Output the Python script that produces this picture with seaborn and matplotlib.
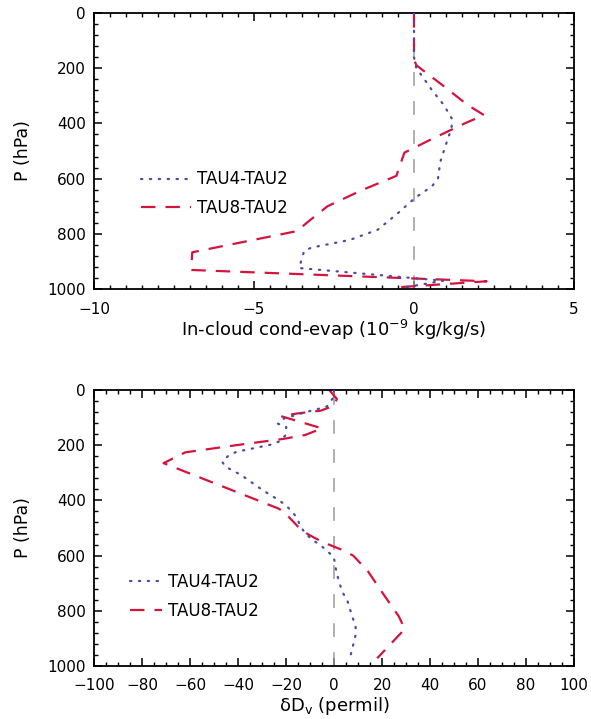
import matplotlib
matplotlib.use("Agg")
import matplotlib.pyplot as plt
import seaborn as sns
import pandas as pd
from matplotlib.ticker import MultipleLocator

# ---------------- data ----------------
# Top panel: in-cloud cond-evap differences (1e-9 kg/kg/s) vs pressure (hPa)
p_cond_tau4 = [0, 160, 200, 228, 281, 333, 386, 418, 479, 540, 600, 628, 670,
               725, 785, 822, 850, 861, 924, 970, 994]
cond_tau4 = [0.0, 0.0, 0.07, 0.25, 0.57, 0.93, 1.2, 1.17, 0.99, 0.82, 0.75,
             0.56, 0.03, -0.5, -1.13, -2.0, -3.2, -3.43, -3.59, 0.91, -0.29]

p_cond_tau8 = [0, 170, 190, 273, 333, 370, 398, 457, 506, 590, 643, 700, 760,
               790, 867, 931, 972, 995]
cond_tau8 = [0.0, 0.0, 0.08, 1.02, 1.67, 2.19, 1.62, 0.55, -0.3, -0.55, -1.65,
             -2.7, -3.35, -3.65, -6.93, -6.96, 2.27, -0.66]

# Bottom panel: dD of vapour differences (permil) vs pressure (hPa)
p_dd_tau4 = [0, 30, 60, 85, 104, 122, 134, 164, 186, 197, 211, 223, 236, 260,
             278, 308, 363, 399, 417, 441, 465, 495, 519, 543, 562, 586, 604,
             640, 670, 731, 761, 821, 855, 888, 948, 981]
dd_tau4 = [0, -0.5, -3, -13.7, -21, -23.4, -19.9, -20.2, -22.7, -25.8, -33.4,
           -40.3, -43.8, -46.6, -45.2, -38.7, -29.7, -23, -20.2, -17.4, -15.3,
           -14, -11.9, -9.1, -5.6, -2.6, -0.1, 0.6, 1.3, 3.4, 5.5, 7.6, 9.0,
           9.0, 7.3, 6.3]

p_dd_tau8 = [0, 32, 57, 75, 85, 95, 139, 163, 177, 199, 226, 265, 430, 445,
             495, 522, 550, 578, 600, 655, 745, 820, 866, 972]
dd_tau8 = [-2, 1.2, 0, -5.6, -15.3, -22, -5, -12, -21, -40, -62, -71, -23,
           -20.5, -15, -11, -5, 3, 8, 14, 21, 27, 29.5, 18]

labels = ["TAU4-TAU2", "TAU8-TAU2"]
xlabel_top = "In-cloud cond-evap (10$^{-9}$ kg/kg/s)"
xlabel_bot = "δD$_{\\mathrm{v}}$ (permil)"
ylabel = "P (hPa)"

# ---------------- style ----------------
sns.set_style("ticks")
plt.rcParams["font.family"] = ["DejaVu Sans"]
plt.rcParams["axes.linewidth"] = 1.3
plt.rcParams["text.color"] = "black"
plt.rcParams["axes.labelcolor"] = "black"

BLUE = "#4B4BA8"
RED = "#D4143C"
GRAY = "#9A9A9A"

fig = plt.figure(figsize=(5.91, 7.19), dpi=100)
W, H = 591.0, 719.0


def make_ax(top_px, bot_px):
    left_px, right_px = 94, 574
    return fig.add_axes([left_px / W, 1 - bot_px / H,
                         (right_px - left_px) / W, (bot_px - top_px) / H])


def style_ax(ax, xmaj, xmin):
    ax.set_ylim(1000, 0)
    ax.yaxis.set_major_locator(MultipleLocator(200))
    ax.yaxis.set_minor_locator(MultipleLocator(40))
    ax.xaxis.set_major_locator(MultipleLocator(xmaj))
    ax.xaxis.set_minor_locator(MultipleLocator(xmin))
    ax.tick_params(which="both", direction="in", top=True, right=True,
                   colors="black", labelsize=11)
    ax.tick_params(which="major", length=6, width=1.1)
    ax.tick_params(which="minor", length=3, width=1.0)
    ax.tick_params(axis="x", pad=9)
    ax.tick_params(axis="y", pad=6)
    for s in ax.spines.values():
        s.set_color("black")
    ax.set_ylabel(ylabel, fontsize=12.5, labelpad=11)
    ax.axvline(0, color=GRAY, lw=1.1, dashes=(9, 10), zorder=1)


def draw(ax, x4, p4, x8, p8):
    d4 = pd.DataFrame({"x": x4, "p": p4})
    d8 = pd.DataFrame({"x": x8, "p": p8})
    sns.lineplot(data=d4, x="x", y="p", sort=False, estimator=None, ax=ax,
                 color=BLUE, lw=1.6, linestyle=(0, (0.6, 3.4)),
                 dash_capstyle="round", label=labels[0], zorder=3)
    sns.lineplot(data=d8, x="x", y="p", sort=False, estimator=None, ax=ax,
                 color=RED, lw=1.6, linestyle=(0, (6.5, 4.5)),
                 label=labels[1], zorder=2)


# top panel
ax1 = make_ax(13, 289)
draw(ax1, cond_tau4, p_cond_tau4, cond_tau8, p_cond_tau8)
ax1.set_xlim(-10, 5)
style_ax(ax1, 5, 0.5)
ax1.set_xlabel(xlabel_top, fontsize=13, labelpad=1)
ax1.legend(loc="center left", bbox_to_anchor=(0.098, 0.346), frameon=False,
           fontsize=12, handlelength=3.0, handletextpad=0.35,
           labelspacing=0.62, borderpad=0, borderaxespad=0)

# bottom panel
ax2 = make_ax(390, 666)
draw(ax2, dd_tau4, p_dd_tau4, dd_tau8, p_dd_tau8)
ax2.set_xlim(-100, 100)
style_ax(ax2, 20, 5)
ax2.set_xlabel(xlabel_bot, fontsize=13, labelpad=1)
ax2.legend(loc="center left", bbox_to_anchor=(0.075, 0.252), frameon=False,
           fontsize=12, handlelength=1.9, handletextpad=0.35,
           labelspacing=0.62, borderpad=0, borderaxespad=0)

fig.savefig("out.png", dpi=100)
